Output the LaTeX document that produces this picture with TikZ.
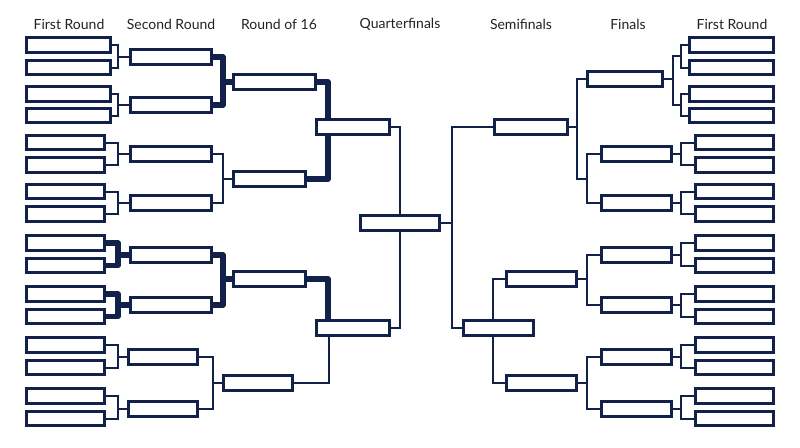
\documentclass[tikz,border=0pt]{standalone}
\usepackage{fontspec}
\setmainfont{Lato}
\usetikzlibrary{calc,backgrounds}
\definecolor{navy}{HTML}{12214A}
\definecolor{inkgray}{HTML}{222222}
% a box, given by left edge, right edge and middle height (in px)
\def\slot(#1)(#2:#3:#4){\node[slot, minimum width={(#3-#2-2.7)*0.75pt}] (#1) at ({(#2+#3)/2}, #4) {};}
% two boxes joined into one box on their right / on their left
\def\brL[#1](#2,#3)(#4:#5){\draw[#1] (#2.east) -| ($(#4.west)+(-#5,0)$) |- (#3.east); \draw[#1] (#4.west) -- ++(-#5,0);}
\def\brR[#1](#2,#3)(#4:#5){\draw[#1] (#2.west) -| ($(#4.east)+(#5,0)$) |- (#3.west); \draw[#1] (#4.east) -- ++(#5,0);}

\begin{document}
\begin{tikzpicture}[x=0.75pt, y=-0.75pt,
		slot/.style={draw=navy, fill=white, line width=2pt, minimum height=10.8pt, inner sep=0pt},
		wire/.style={draw=navy, line width=1.5pt},
		win/.style={draw=navy, line width=3.9pt, line join=round},
		head/.style={text=inkgray, font=\fontsize{10.5}{12}\selectfont}]
			%%%%% START %%%%%
			\useasboundingbox (0, 0) rectangle (800, 447);
			
			\node[head] (h1) at (69, 24) {First Round};
			\node[head] (h2) at (171, 24) {Second Round};
			\node[head] (h3) at (279, 24) {Round of 16};
			\node[head] (h4) at (400, 24) {Quarterfinals};
			\node[head] (h5) at (521, 24) {Semifinals};
			\node[head] (h6) at (628, 24) {Finals};
			\node[head] (h7) at (732, 24) {First Round};
			
			% boxes
			\slot(L1)(25:112:45)
			\slot(L2)(25:112:67.5)
			\slot(L3)(25:112:94)
			\slot(L4)(25:112:115.5)
			\slot(L5)(25:106:142.5)
			\slot(L6)(25:106:165)
			\slot(L7)(25:106:191.5)
			\slot(L8)(25:106:214)
			\slot(L9)(25:106:243)
			\slot(L10)(25:106:265.5)
			\slot(L11)(25:106:294)
			\slot(L12)(25:106:316.5)
			\slot(L13)(25:106:345)
			\slot(L14)(25:106:367.5)
			\slot(L15)(25:106:396)
			\slot(L16)(25:106:418.5)
			
			\slot(A)(129:213:57)
			\slot(B)(129:213:105)
			\slot(C)(129:213:154)
			\slot(D)(129:213:203)
			\slot(E)(129:213:255)
			\slot(F)(129:213:305)
			\slot(G)(127:199:357)
			\slot(H)(127:199:409)
			
			\slot(a)(232:317:82)
			\slot(b)(232:307:179)
			\slot(c)(232:307:279)
			\slot(d)(222:294:383)
			
			\slot(Q1)(315:391:127)
			\slot(Q2)(315:391:328)
			\slot(S)(359:441:223)
			
			\slot(R1)(493:569:127)
			\slot(R2)(462:535:328)
			\slot(F1)(586:664:79)
			\slot(F2)(600:673:154)
			\slot(F3)(600:673:203)
			\slot(G1)(505:578:279)
			\slot(G2)(505:578:383)
			\slot(K1)(600:673:255)
			\slot(K2)(600:673:305)
			\slot(K3)(600:673:357)
			\slot(K4)(600:673:409)
			
			\slot(r1)(688:775:45)
			\slot(r2)(688:775:67.5)
			\slot(r3)(688:775:94)
			\slot(r4)(688:775:115.5)
			\slot(r5)(694:775:142.5)
			\slot(r6)(694:775:165)
			\slot(r7)(694:775:191.5)
			\slot(r8)(694:775:214)
			\slot(r9)(694:775:243)
			\slot(r10)(694:775:265.5)
			\slot(r11)(694:775:294)
			\slot(r12)(694:775:316.5)
			\slot(r13)(694:775:345)
			\slot(r14)(694:775:367.5)
			\slot(r15)(694:775:396)
			\slot(r16)(694:775:418.5)
			
			\begin{pgfonlayer}{background}
			% left half
			\brL[wire](L1,L2)(A:11)
			\brL[wire](L3,L4)(B:11)
			\brL[wire](L5,L6)(C:11)
			\brL[wire](L7,L8)(D:11)
			\brL[win](L9,L10)(E:11)
			\brL[win](L11,L12)(F:11)
			\brL[wire](L13,L14)(G:9)
			\brL[wire](L15,L16)(H:9)
			
			\brL[win](A,B)(a:9)
			\brL[wire](C,D)(b:9)
			\brL[win](E,F)(c:9)
			\brL[wire](G,H)(d:9)
			
			\draw[win] (a.east) -| ($(Q1.north west)+(13, 0)$);
			\draw[win] (b.east) -| ($(Q1.south west)+(13, 0)$);
			\draw[win] (c.east) -| ($(Q2.north west)+(13, 0)$);
			\draw[wire] (d.east) -| ($(Q2.south west)+(14, 0)$);
			
			\draw[wire] (Q1.east) -| (S.north);
			\draw[wire] (Q2.east) -| (S.south);
			
			% right half
			\brR[wire](R1,R2)(S:11)
			
			\coordinate (fj) at ($(F2.west)!0.5!(F3.west)+(-13, 0)$);
			\draw[wire] (F1.west) -| ($(R1.east)+(8, 0)$) |- (fj);
			\draw[wire] (R1.east) -- ++(8, 0);
			\draw[wire] (F2.west) -| (fj) |- (F3.west);
			
			\draw[wire] (G1.west) -| ($(R2.north west)+(31, 0)$);
			\draw[wire] (G2.west) -| ($(R2.south west)+(31, 0)$);
			\brR[wire](K1,K2)(G1:9)
			\brR[wire](K3,K4)(G2:9)
			
			\coordinate (p1) at ($(r1.west)!0.5!(r2.west)+(-7, 0)$);
			\coordinate (p2) at ($(r3.west)!0.5!(r4.west)+(-7, 0)$);
			\draw[wire] (p1) -| ($(F1.east)+(9, 0)$) |- (p2);
			\draw[wire] (F1.east) -- ++(9, 0);
			\draw[wire] (r1.west) -| (p1) |- (r2.west);
			\draw[wire] (r3.west) -| (p2) |- (r4.west);
			
			\brR[wire](r5,r6)(F2:8)
			\brR[wire](r7,r8)(F3:8)
			\brR[wire](r9,r10)(K1:8)
			\brR[wire](r11,r12)(K2:8)
			\brR[wire](r13,r14)(K3:8)
			\brR[wire](r15,r16)(K4:8)
			\end{pgfonlayer}
			%%%%% END %%%%%
\end{tikzpicture}
\end{document}
